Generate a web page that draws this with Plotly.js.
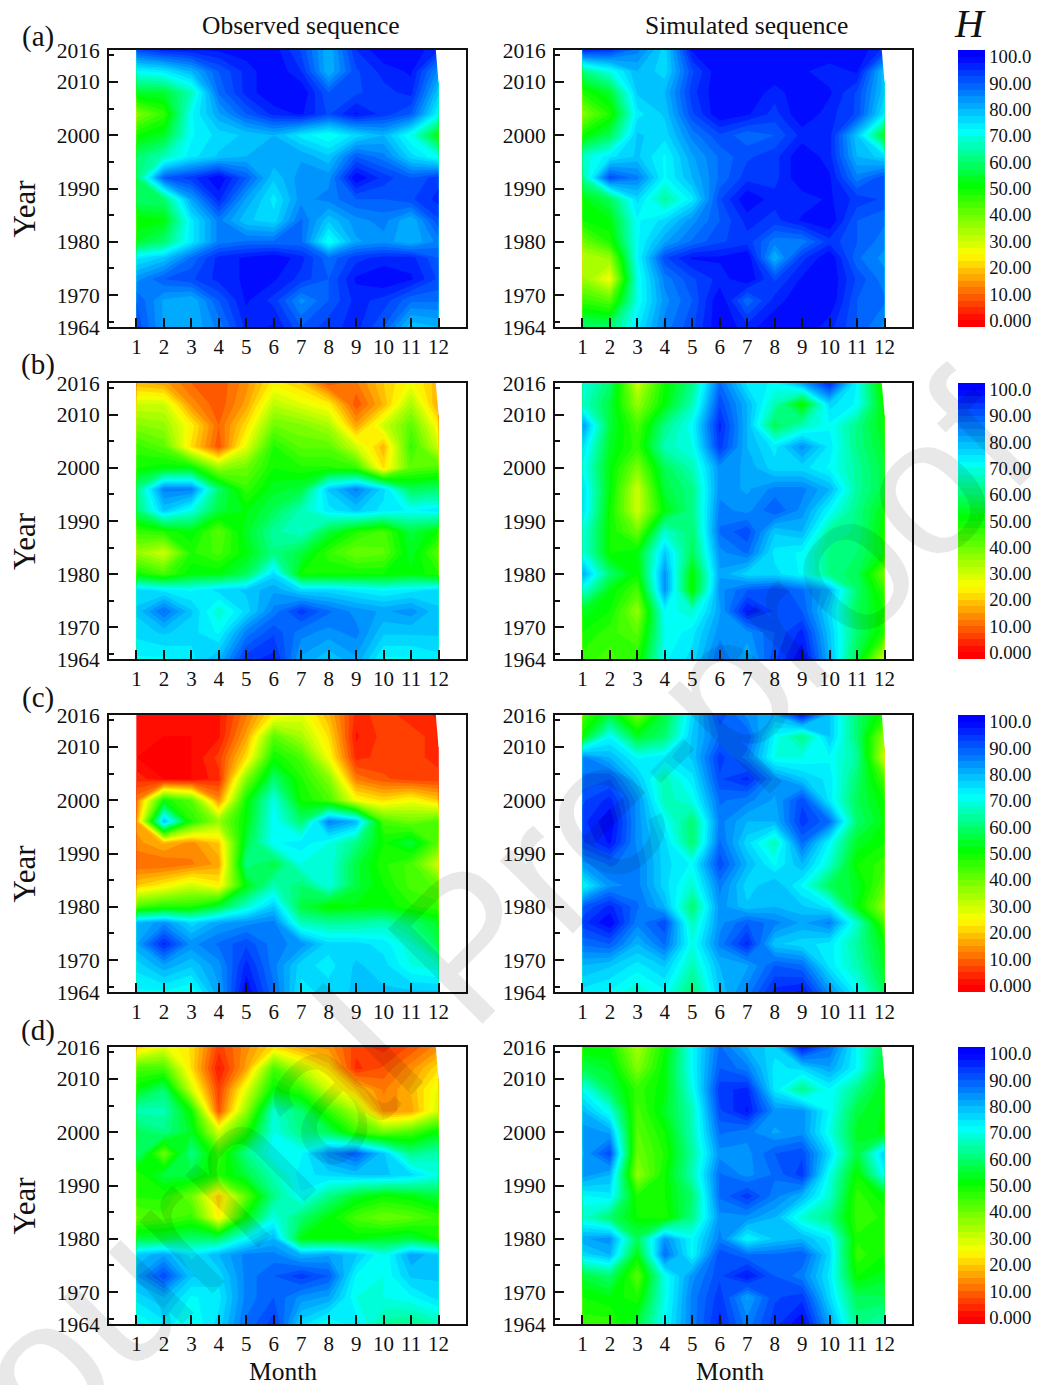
<!DOCTYPE html>
<html>
<head>
<meta charset="utf-8">
<script src="https://cdn.plot.ly/plotly-3.0.1.min.js"></script>
<style>html,body{margin:0;padding:0;background:#fff}#chart{width:1037px;height:1385px}</style>
</head>
<body>
<div id="chart"></div>
<script>
const months = [1,2,3,4,5,6,7,8,9,10,11,12];
const years = [2016,2012,2008,2004,2000,1996,1992,1988,1984,1980,1977,1973,1969,1964];
const yearTicks = [1964,1970,1980,1990,2000,2010,2016];
const yearMinor = [1965,1975,1985,1995,2005,2015];
const barTicks = [0,10,20,30,40,50,60,70,80,90,100];
const barLabels = ['0.000','10.00','20.00','30.00','40.00','50.00','60.00','70.00','80.00','90.00','100.0'];
const panelNames = ['(a)','(b)','(c)','(d)'];
const columnTitles = ['Observed sequence','Simulated sequence'];

const aObserved = [
[92,96,97,98,99,99,92,80,95,100,100,95],
[72,74,80,90,96,100,95,80,92,96,98,84],
[55,55,66,88,96,100,100,90,92,94,96,78],
[38,46,72,82,90,96,98,92,98,94,90,72],
[50,54,72,76,78,80,74,70,76,80,70,52],
[60,66,74,78,80,82,82,78,90,86,76,70],
[60,90,94,100,90,78,84,84,100,94,90,94],
[60,60,82,96,82,74,84,86,90,90,92,96],
[50,52,74,86,78,76,88,78,84,86,80,92],
[55,60,74,86,88,88,88,70,82,84,80,86],
[74,78,88,96,98,100,96,88,94,96,96,90],
[84,90,92,96,98,98,94,90,98,100,98,92],
[90,82,80,90,98,94,84,90,96,94,88,88],
[92,82,80,86,96,98,90,94,96,90,78,80]];
const aSimulated = [
[96,94,86,76,98,100,100,100,100,100,100,94],
[62,70,80,76,92,100,100,100,98,96,98,78],
[48,55,78,80,94,100,100,96,100,98,92,78],
[38,48,74,78,92,100,98,94,100,96,92,74],
[50,58,78,76,86,92,88,90,96,96,78,54],
[68,74,78,72,82,88,92,94,100,96,80,76],
[64,92,86,72,80,88,94,94,100,98,86,92],
[52,58,76,64,74,92,100,96,96,98,94,92],
[50,52,72,76,84,90,96,94,98,100,90,88],
[40,48,72,82,88,92,94,86,86,94,90,86],
[32,36,72,92,98,98,100,80,94,100,88,84],
[36,26,70,86,92,96,100,92,98,100,92,86],
[46,42,70,84,90,100,88,96,100,100,90,88],
[60,60,74,86,92,100,96,100,100,96,90,84]];
const bObserved = [
[18,16,10,8,14,24,20,8,12,20,26,18],
[30,30,14,8,16,32,28,24,8,18,34,16],
[38,36,24,10,22,40,38,34,16,30,42,24],
[46,42,22,8,28,48,42,42,30,18,46,30],
[50,52,52,36,40,50,48,48,46,22,42,44],
[62,86,86,60,46,54,56,78,86,76,58,60],
[60,78,70,56,52,58,66,74,78,74,72,74],
[46,48,52,42,54,64,68,56,48,44,56,50],
[36,30,48,44,52,62,56,46,40,42,54,42],
[50,44,52,52,58,76,50,50,50,50,52,48],
[76,74,72,76,78,82,76,76,74,72,74,76],
[78,88,78,68,76,86,94,88,84,82,84,78],
[76,78,76,72,86,92,86,84,86,78,78,78],
[72,72,74,80,94,96,82,78,82,72,72,74]];
const bSimulated = [
[70,60,30,50,62,88,74,72,82,96,72,46],
[68,56,36,52,66,92,80,66,50,76,72,50],
[84,56,44,62,72,96,80,58,66,72,62,52],
[76,54,46,66,70,94,80,74,84,74,62,54],
[72,52,38,58,66,84,82,76,76,72,64,56],
[76,52,30,56,62,84,82,86,86,80,64,56],
[76,50,30,52,62,86,84,90,84,72,62,52],
[70,50,40,68,60,88,92,78,80,64,62,50],
[70,50,52,78,58,84,88,74,72,62,60,52],
[82,60,50,84,50,82,76,76,72,62,58,40],
[70,52,44,84,50,84,90,92,88,80,60,46],
[54,50,36,72,68,82,98,92,90,76,58,50],
[50,46,42,70,74,84,84,90,96,78,60,48],
[46,44,48,72,76,88,80,92,100,80,56,30]];
const cObserved = [
[2,2,2,2,12,24,28,18,4,6,4,2],
[2,0,0,2,16,42,34,22,2,6,6,4],
[0,0,0,6,22,50,44,26,4,6,6,4],
[4,0,0,4,38,60,48,38,12,8,6,6],
[12,50,42,14,50,70,50,44,26,22,26,20],
[16,80,48,36,52,72,60,86,80,44,40,44],
[14,18,14,20,56,72,74,70,62,50,56,42],
[10,10,12,16,62,56,70,70,56,48,44,30],
[20,24,30,24,52,66,60,70,56,50,44,42],
[44,48,48,56,68,78,56,50,52,52,48,46],
[80,84,76,82,84,86,66,64,64,66,60,54],
[82,96,84,88,92,86,84,76,76,74,68,58],
[76,82,78,84,96,86,76,74,78,76,70,68],
[72,72,70,82,100,88,74,76,78,78,78,78]];
const cSimulated = [
[44,56,40,56,76,92,84,80,98,78,60,48],
[52,72,54,60,78,88,90,72,62,78,60,36],
[86,80,72,74,78,94,86,70,70,72,64,30],
[88,90,78,66,74,92,96,84,78,74,60,44],
[92,96,84,66,70,88,86,82,92,74,58,50],
[94,100,84,72,60,86,80,80,94,88,60,52],
[92,98,84,76,60,88,76,66,88,72,54,50],
[84,88,86,76,72,92,80,72,80,68,50,46],
[72,84,86,76,68,86,76,80,72,58,54,42],
[90,96,88,80,60,84,78,80,78,74,52,36],
[94,100,86,92,66,84,90,86,82,86,68,44],
[88,90,80,88,70,86,96,78,76,74,64,52],
[80,78,74,78,66,80,82,90,88,74,66,54],
[74,72,68,72,60,78,86,96,98,84,72,58]];
const dObserved = [
[20,28,22,6,14,22,16,14,6,4,8,14],
[44,44,22,2,16,44,32,22,4,8,14,22],
[52,60,30,6,28,52,46,30,20,12,18,28],
[66,66,50,8,36,68,60,46,34,14,16,30],
[58,62,54,30,48,70,62,58,46,40,44,52],
[62,40,62,46,62,72,72,84,90,78,62,66],
[48,56,56,48,56,66,74,76,78,78,76,70],
[48,48,40,20,42,62,72,62,54,50,52,56],
[42,44,46,24,52,70,60,52,44,40,42,46],
[56,56,60,60,72,80,52,52,52,54,56,50],
[78,82,74,80,86,86,80,82,78,70,82,78],
[82,92,78,76,86,90,94,90,72,70,78,78],
[76,80,72,74,86,90,84,82,70,70,72,76],
[70,74,70,76,88,94,76,70,74,64,62,66]];
const dSimulated = [
[50,50,34,50,72,88,80,76,98,88,72,56],
[58,54,38,52,72,90,86,74,76,82,72,54],
[72,58,46,52,70,94,96,74,62,72,62,52],
[80,70,44,54,66,92,98,84,84,72,56,52],
[84,82,42,50,66,88,86,82,84,70,54,52],
[82,92,40,48,64,84,84,90,92,76,56,78],
[84,80,36,50,66,88,84,88,94,70,50,72],
[72,74,48,50,60,88,94,86,80,68,46,52],
[68,60,50,48,62,84,84,80,68,62,46,48],
[82,84,58,84,72,86,72,78,80,74,48,50],
[76,80,52,88,72,92,88,88,90,76,46,50],
[56,60,42,70,84,92,98,90,86,74,50,54],
[50,52,48,70,86,94,82,92,94,76,58,58],
[46,46,56,72,86,96,86,94,100,82,62,66]];

const grids = [[aObserved,aSimulated],[bObserved,bSimulated],[cObserved,cSimulated],[dObserved,dSimulated]];

const W = 1037, H = 1385;
const FONT = '"Liberation Serif","Times New Roman",serif';
const INK = '#111111';
const colX = [[109,466],[555,912]];
const rowY = [[50,327],[383,659],[715,992],[1047,1324]];
const nameY = [36,365,697,1030];
const px = v => v / W;
const py = v => 1 - v / H;
const zLow = -2.5, zHigh = 102.5;
const zPos = v => (v - zLow) / (zHigh - zLow);
const colors = [[0,'#ff0000'],[zPos(0),'#ff0000'],[zPos(25),'#ffff00'],[zPos(51),'#00ff00'],[zPos(72),'#00ffff'],[zPos(100),'#0000ff'],[1,'#0000ff']];

const traces = [], layout = {
  width: W, height: H, margin: {l:0,r:0,t:0,b:0}, showlegend: false,
  paper_bgcolor: '#fff', plot_bgcolor: '#fff',
  font: {family: FONT, color: INK}, annotations: [], shapes: []
};
const label = (text,x,y,size,extra) => layout.annotations.push(Object.assign({
  text, xref:'paper', yref:'paper', x:px(x), y:py(y), showarrow:false,
  xanchor:'center', yanchor:'middle', font:{family:FONT,size,color:INK}
}, extra||{}));

let n = 0;
grids.forEach((pair,r) => pair.forEach((grid,c) => {
  n++;
  const xa = 'xaxis'+n, ya = 'yaxis'+n, xid='x'+n, yid='y'+n;
  layout[xa] = {
    domain:[px(colX[c][0]),px(colX[c][1])], range:[0,13], anchor:yid,
    tickmode:'array', tickvals:months, ticks:'inside', ticklen:9, tickwidth:2, tickcolor:INK,
    showline:true, linecolor:INK, linewidth:2, mirror:true, showgrid:false, zeroline:false,
    tickfont:{family:FONT,size:21,color:INK}, ticklabelstandoff:0
  };
  layout[ya] = {
    domain:[py(rowY[r][1]),py(rowY[r][0])], range:[1964,2016], anchor:xid,
    tickmode:'array', tickvals:yearTicks, ticktext:yearTicks.map(String), ticks:'inside', ticklen:9, tickwidth:2, tickcolor:INK,
    minor:{tickmode:'array',tickvals:yearMinor,ticks:'inside',ticklen:5,tickwidth:2,tickcolor:INK,showgrid:false},
    showline:true, linecolor:INK, linewidth:2, mirror:true, showgrid:false, zeroline:false,
    tickfont:{family:FONT,size:21.5,color:INK}, ticklabelstandoff:3
  };
  const t = {
    type:'contour', x:months, y:years.slice().reverse(), z:grid.slice().reverse(),
    xaxis:xid, yaxis:yid, colorscale:colors, zauto:false, zmin:zLow, zmax:zHigh, autocontour:false,
    contours:{start:zLow,end:zHigh,size:2.5,coloring:'fill',showlines:false},
    line:{width:0,smoothing:0}, showscale:c===1, hoverinfo:'skip'
  };
  if (c===1) t.colorbar = {
    x:px(958), xanchor:'left', xpad:0, y:py((rowY[r][0]+rowY[r][1])/2), yanchor:'middle', ypad:0,
    lenmode:'pixels', len:rowY[r][1]-rowY[r][0], thicknessmode:'pixels', thickness:27,
    tickmode:'array', tickvals:barTicks, ticktext:barLabels, ticks:'', outlinewidth:0,
    tickfont:{family:FONT,size:18.7,color:INK}, ticklabelposition:'outside'
  };
  traces.push(t);
  layout.shapes.push({type:'path', xref:xid, yref:yid, layer:'above',
    path:'M 11.9 2016 L 12.05 2016 L 12.05 2010 L 12 2010 Z', fillcolor:'#fff', line:{width:0}});
  if (c===0) {
    label('Year', 24, (rowY[r][0]+rowY[r][1])/2+20, 31, {textangle:-90});
    label(panelNames[r], 38, nameY[r], 29);
  }
  if (r===3) label('Month', c===0?283:730, 1371, 25.5);
}));
label(columnTitles[0], 300.5, 25, 25.5);
label(columnTitles[1], 746.5, 25, 25.5);
label('H', 970, 23, 40, {font:{family:FONT,size:40,color:INK,style:'italic'}});
label('Journal Pre-proof', 465, 945, 195, {
  textangle:-45, font:{family:'"Liberation Sans",Arial,sans-serif',size:195,color:'rgba(0,0,0,0.09)'}
});

Plotly.newPlot('chart', traces, layout, {displayModeBar:false, staticPlot:true});
</script>
</body>
</html>
